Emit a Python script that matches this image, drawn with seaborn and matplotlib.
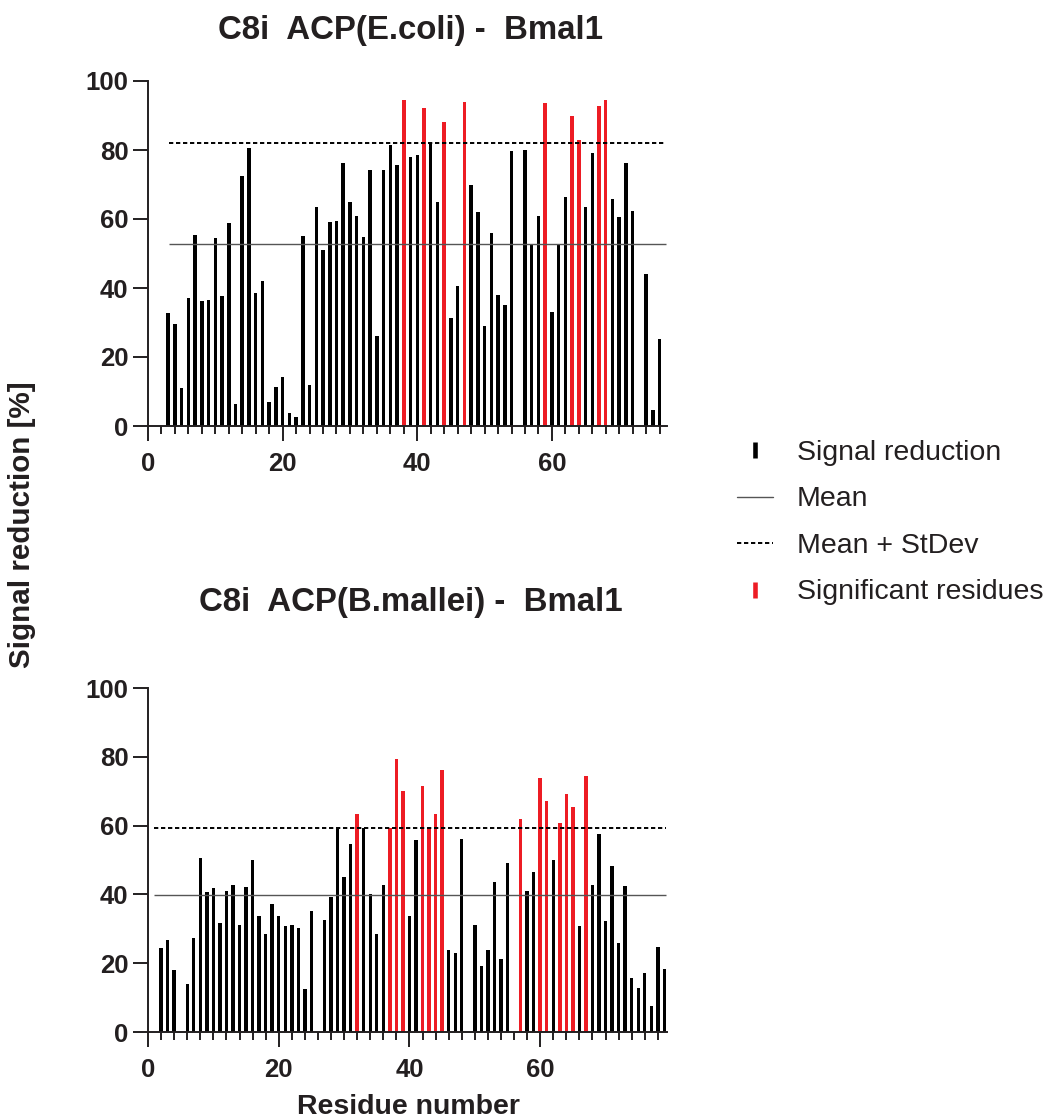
import numpy as np
import pandas as pd
import matplotlib
matplotlib.use("Agg")
import matplotlib.pyplot as plt
from matplotlib.lines import Line2D
from matplotlib.ticker import MultipleLocator
import seaborn as sns

# ---------------- data ----------------
top_title = "C8i  ACP(E.coli) -  Bmal1"
top_residues = [3, 4, 5, 6, 7, 8, 9, 10, 11, 12, 13, 14, 15, 16, 17, 18, 19, 20,
                21, 22, 23, 24, 25, 26, 27, 28, 29, 30, 31, 32, 33, 34, 35, 36, 37,
                38, 39, 40, 41, 42, 43, 44, 45, 46, 47, 48, 49, 50, 51, 52, 53, 54,
                56, 57, 58, 59, 60, 61, 62, 63, 64, 65, 66, 67, 68, 69, 70, 71, 72,
                74, 75, 76]
top_values = [32.8, 29.7, 10.9, 37.1, 55.4, 36.2, 36.4, 54.5, 37.6, 58.8, 6.3, 72.6,
              80.5, 38.6, 42.1, 7.0, 11.2, 14.1, 3.9, 2.5, 55.0, 11.8, 63.6, 51.1,
              59.2, 59.5, 76.2, 64.9, 60.8, 54.7, 74.1, 26.1, 74.2, 81.5, 75.6, 94.6,
              78.0, 78.6, 92.1, 82.1, 64.9, 88.2, 31.2, 40.7, 94.0, 70.0, 62.0, 28.9,
              55.8, 37.9, 35.1, 79.7, 80.0, 52.7, 61.0, 93.7, 33.0, 52.5, 66.3, 89.9,
              82.9, 63.6, 79.1, 92.8, 94.6, 65.7, 60.6, 76.2, 62.4, 44.1, 4.5, 25.3]
top_significant = [38, 41, 44, 47, 59, 63, 64, 67, 68]
top_mean = 52.7
top_mean_sd = 82.1

bot_title = "C8i  ACP(B.mallei) -  Bmal1"
bot_residues = [2, 3, 4, 6, 7, 8, 9, 10, 11, 12, 13, 14, 15, 16, 17, 18, 19, 20, 21,
                22, 23, 24, 25, 27, 28, 29, 30, 31, 32, 33, 34, 35, 36, 37, 38, 39, 40,
                41, 42, 43, 44, 45, 46, 47, 48, 50, 51, 52, 53, 54, 55, 57, 58, 59, 60,
                61, 62, 63, 64, 65, 66, 67, 68, 69, 70, 71, 72, 73, 74, 75, 76, 77, 78,
                79]
bot_values = [24.3, 26.8, 17.9, 13.9, 27.2, 50.6, 40.8, 42.0, 31.6, 41.1, 42.6, 31.2,
              42.2, 50.0, 33.7, 28.4, 37.2, 33.7, 30.8, 31.2, 30.1, 12.6, 35.1, 32.6,
              39.2, 59.1, 45.1, 54.7, 63.3, 59.2, 40.1, 28.4, 42.6, 59.4, 79.5, 70.2,
              33.6, 55.8, 71.6, 59.4, 63.3, 76.1, 23.8, 23.1, 56.2, 31.1, 19.1, 23.7,
              43.7, 21.2, 49.2, 61.9, 40.9, 46.5, 73.9, 67.1, 50.1, 60.8, 69.3, 65.4,
              30.9, 74.5, 42.6, 57.5, 32.4, 48.2, 26.0, 42.4, 15.7, 12.8, 17.2, 7.7,
              24.6, 18.3]
bot_significant = [32, 37, 38, 39, 42, 43, 44, 45, 57, 60, 61, 63, 64, 65, 67]
bot_mean = 39.8
bot_mean_sd = 59.2

legend_labels = ["Signal reduction", "Mean", "Mean + StDev", "Significant residues"]
x_label = "Residue number"
y_label = "Signal reduction [%]"

# ---------------- style ----------------
sns.set_theme(style="ticks")
plt.rcParams["font.family"] = ["Liberation Sans", "DejaVu Sans"]
TXT = "#231f20"
RED = "#ed1c24"
plt.rcParams.update({
    "text.color": TXT, "axes.labelcolor": TXT,
    "xtick.color": TXT, "ytick.color": TXT,
    "axes.edgecolor": TXT,
})

W, H = 1050, 1120
fig = plt.figure(figsize=(W / 100, H / 100), dpi=100)


def make_axes(px_left, px_top, px_right, px_bottom):
    return fig.add_axes([px_left / W, 1 - px_bottom / H,
                         (px_right - px_left) / W, (px_bottom - px_top) / H])


ax_top = make_axes(148, 81, 667, 426)
ax_bot = make_axes(148, 688, 667, 1032)

panels = [
    (ax_top, top_residues, top_values, top_significant, top_mean, top_mean_sd,
     77.1, (3.1, 77.0)),
    (ax_bot, bot_residues, bot_values, bot_significant, bot_mean, bot_mean_sd,
     79.4, (0.9, 79.2)),
]

for ax, res, vals, sig, mean, msd, xmax, (lx0, lx1) in panels:
    df = pd.DataFrame({"residue": res, "value": vals})
    df["group"] = np.where(df["residue"].isin(sig), "sig", "ns")
    sns.barplot(data=df, x="residue", y="value", hue="group",
                palette={"ns": "black", "sig": RED}, native_scale=True,
                dodge=False, width=0.52, errorbar=None, legend=False,
                linewidth=0, saturation=1, ax=ax)
    ax.hlines(mean, lx0, lx1, colors="#555555", linewidth=1.0, zorder=3)
    ax.hlines(msd, lx0, lx1, colors="black", linewidth=1.4,
              linestyles=(0, (2.2, 1.4)), zorder=3)
    ax.set_xlim(0, xmax)
    ax.set_ylim(0, 100)
    ax.xaxis.set_major_locator(MultipleLocator(20))
    ax.xaxis.set_minor_locator(MultipleLocator(2))
    ax.yaxis.set_major_locator(MultipleLocator(20))
    ax.set_xlabel("")
    ax.set_ylabel("")
    for s in ["top", "right"]:
        ax.spines[s].set_visible(False)
    for s in ["left", "bottom"]:
        ax.spines[s].set_linewidth(1.4)
    ax.tick_params(axis="both", which="major", length=10.5, width=1.4,
                   labelsize=18.5, direction="out")
    ax.tick_params(axis="x", which="major", pad=8.5)
    ax.tick_params(axis="y", which="major", pad=3.5)
    ax.tick_params(axis="x", which="minor", length=5.5, width=1.4)
    for lab in ax.get_xticklabels() + ax.get_yticklabels():
        lab.set_fontweight("bold")
    ax.set_facecolor("white")

fig.text(411 / W, 1 - 30 / H, top_title, ha="center", va="center",
         fontsize=23.8, fontweight="bold")
fig.text(411 / W, 1 - 603 / H, bot_title, ha="center", va="center",
         fontsize=23.8, fontweight="bold")
fig.text(22 / W, 1 - 525 / H, y_label, rotation=90, ha="center", va="center",
         fontsize=21.3, fontweight="bold")
fig.text(408 / W, 1 - 1107 / H, x_label, ha="center", va="center",
         fontsize=20.5, fontweight="bold")

handles = [
    Line2D([], [], linestyle="None", marker="|", markersize=11,
           markeredgewidth=3.3, color="black"),
    Line2D([], [], color="#555555", linewidth=1.0),
    Line2D([], [], color="black", linewidth=1.4, linestyle=(0, (2.2, 1.4))),
    Line2D([], [], linestyle="None", marker="|", markersize=11,
           markeredgewidth=3.3, color=RED),
]
fig.legend(handles, legend_labels, loc="upper left",
           bbox_to_anchor=(737 / W, 1 - 440 / H), frameon=False,
           fontsize=20.5, handlelength=1.26, handletextpad=0.84,
           labelspacing=0.72, borderpad=0, borderaxespad=0)

fig.savefig("out.png", dpi=100, facecolor="white")
